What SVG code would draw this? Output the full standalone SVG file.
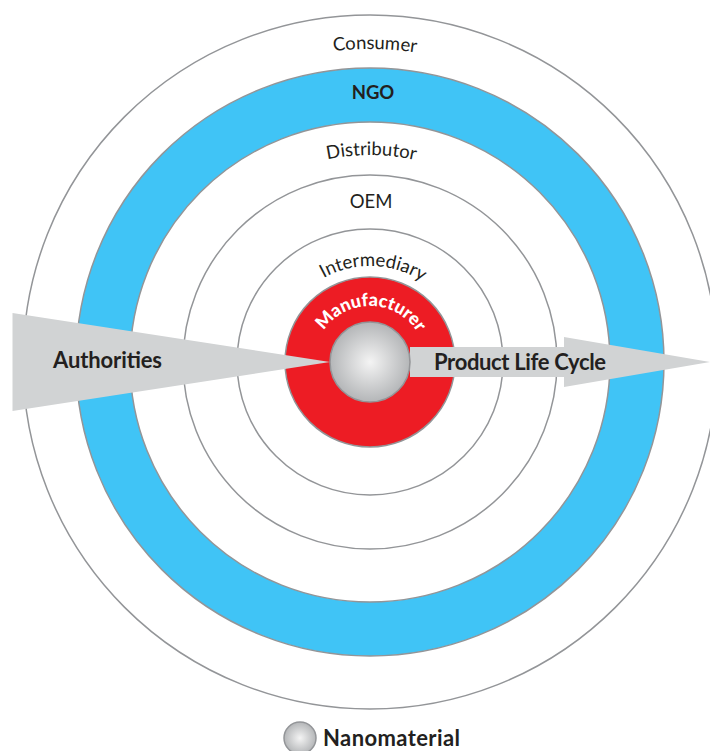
<svg xmlns="http://www.w3.org/2000/svg" xmlns:xlink="http://www.w3.org/1999/xlink" width="710" height="751" viewBox="0 0 710 751">
<style>
.ring{fill:#fff;stroke:#939598;stroke-width:1.5}
.lbl{font-family:Lato,"Open Sans",sans-serif;font-size:18.5px;fill:#231f20;text-anchor:middle}
.b{font-weight:700}
.big{font-family:Lato,"Open Sans",sans-serif;font-size:22px;font-weight:700;fill:#231f20}
.arrow{fill:#d1d3d4}
.sphere{fill:url(#g);stroke:#939598;stroke-width:1.5}
</style>
<defs>
<radialGradient id="g"><stop offset="0" stop-color="#f4f4f4"/><stop offset="1" stop-color="#b4b6b8"/></radialGradient>
<path id="a1" d="M57 362A313 313 0 0 1 683 362"/>
<path id="a2" d="M163 362A207 207 0 0 1 577 362"/>
<path id="a3" d="M274 362A96 96 0 0 1 466 362"/>
<path id="a4" d="M314 362A56 56 0 0 1 426 362"/>
</defs>
<rect width="710" height="751" fill="#fff"/>
<g id="consumer"><circle class="ring" cx="370" cy="362" r="347"/>
<text class="lbl" transform="rotate(0.9 370 362)"><textPath xlink:href="#a1" href="#a1" startOffset="50%">Consumer</textPath></text></g>
<g id="ngo"><circle cx="370" cy="362" r="294" fill="#40c4f6" stroke="#939598" stroke-width="1.5"/>
<text class="lbl b" x="373" y="99">NGO</text></g>
<g id="distributor"><circle class="ring" cx="370" cy="362" r="240"/>
<text class="lbl" transform="rotate(0.4 370 362)"><textPath xlink:href="#a2" href="#a2" startOffset="50%">Distributor</textPath></text></g>
<g id="oem"><circle class="ring" cx="370" cy="362" r="187"/>
<text class="lbl" x="371" y="208">OEM</text></g>
<g id="intermediary"><circle class="ring" cx="370" cy="362" r="133"/>
<text class="lbl" transform="rotate(2 370 362)"><textPath xlink:href="#a3" href="#a3" startOffset="50%">Intermediary</textPath></text></g>
<g id="manufacturer"><circle cx="370" cy="362" r="85" fill="#ed1c24" stroke="#939598" stroke-width="1.5"/>
<text class="lbl" style="fill:#fff;font-size:18px;font-weight:900" transform="rotate(1 370 362)"><textPath xlink:href="#a4" href="#a4" startOffset="50%">Manufacturer</textPath></text></g>
<g id="connectors">
<polygon id="authorities-arrow" class="arrow" points="12.5,313 330,362 12.5,411"/>
<polygon id="life-cycle-arrow" class="arrow" points="410,347 564,347 564,337 710,362 564,387 564,377 410,377"/>
</g>
<g id="nanomaterial"><circle class="sphere" cx="370" cy="362" r="40"/></g>
<text class="big" x="53" y="368" textLength="109">Authorities</text>
<text class="big" x="434" y="370" textLength="172">Product Life Cycle</text>
<g id="legend"><circle class="sphere" cx="300" cy="738" r="16"/>
<text class="big" x="323" y="746" textLength="137">Nanomaterial</text></g>
</svg>
